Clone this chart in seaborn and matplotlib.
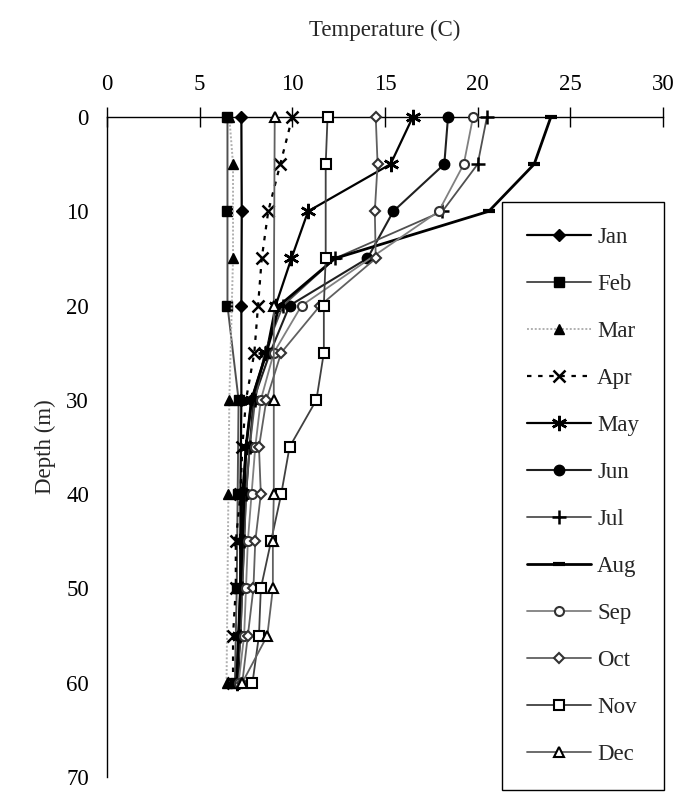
import matplotlib
matplotlib.use("Agg")
import matplotlib.pyplot as plt
import seaborn as sns
import pandas as pd

sns.set_style("white")
plt.rcParams['font.family'] = ['Liberation Serif', 'DejaVu Serif']

months = ["Jan", "Feb", "Mar", "Apr", "May", "Jun", "Jul", "Aug", "Sep", "Oct", "Nov", "Dec"]

depth_full = [0, 5, 10, 15, 20, 25, 30, 35, 40, 45, 50, 55, 60]
depth_jan = [0, 10, 20, 30, 40, 50, 60]
depth_feb = [0, 10, 20, 30, 40, 50, 60]
depth_mar = [0, 5, 15, 30, 40, 60]
depth_dec = [0, 20, 30, 40, 45, 50, 55, 60]
depth_sep = [0, 5, 10, 20, 25, 30, 35, 40, 45, 50, 55, 60]
depth_nov = [0, 5, 15, 20, 25, 30, 35, 40, 45, 50, 55, 60]

temp_jan = [7.25, 7.27, 7.25, 7.25, 7.2, 7.2, 7.1]
temp_feb = [6.5, 6.5, 6.5, 7.1, 7.05, 7.0, 6.9]
temp_mar = [6.6, 6.8, 6.8, 6.6, 6.55, 6.45]
temp_apr = [10.0, 9.35, 8.7, 8.35, 8.15, 7.95, 7.5, 7.3, 7.2, 6.95, 6.95, 6.8, 6.8]
temp_may = [16.5, 15.3, 10.85, 9.95, 9.1, 8.6, 7.8, 7.5, 7.3, 7.2, 7.2, 7.1, 7.0]
temp_jun = [18.4, 18.2, 15.45, 14.05, 9.85, 8.8, 7.9, 7.7, 7.5, 7.4, 7.3, 7.2, 7.0]
temp_jul = [20.5, 20.0, 18.1, 12.3, 9.5, 8.5, 8.0, 7.7, 7.5, 7.4, 7.3, 7.2, 7.0]
temp_aug = [23.95, 23.05, 20.6, 12.3, 9.3, 8.6, 7.8, 7.5, 7.4, 7.3, 7.2, 7.1, 7.0]
temp_sep = [19.75, 19.25, 17.9, 10.5, 9.0, 8.3, 8.0, 7.8, 7.6, 7.5, 7.4, 7.1]
temp_oct = [14.5, 14.6, 14.45, 14.5, 11.5, 9.4, 8.6, 8.2, 8.3, 8.0, 7.9, 7.6, 7.3]
temp_nov = [11.9, 11.8, 11.8, 11.7, 11.7, 11.3, 9.85, 9.4, 8.85, 8.3, 8.2, 7.85]
temp_dec = [9.05, 9.0, 9.0, 9.0, 8.95, 8.95, 8.65, 7.3]

x_ticks = [0, 5, 10, 15, 20, 25, 30]
y_ticks = [0, 10, 20, 30, 40, 50, 60, 70]

series = {
    "Jan": (temp_jan, depth_jan), "Feb": (temp_feb, depth_feb), "Mar": (temp_mar, depth_mar),
    "Apr": (temp_apr, depth_full), "May": (temp_may, depth_full), "Jun": (temp_jun, depth_full),
    "Jul": (temp_jul, depth_full), "Aug": (temp_aug, depth_full), "Sep": (temp_sep, depth_sep),
    "Oct": (temp_oct, depth_full), "Nov": (temp_nov, depth_nov), "Dec": (temp_dec, depth_dec),
}

styles = {
    "Jan": dict(color="black", ls="-", lw=1.6, marker="D", ms=6, mfc="black", mec="black"),
    "Feb": dict(color="#505050", ls="-", lw=1.4, marker="s", ms=7, mfc="black", mec="black"),
    "Mar": dict(color="#b0b0b0", ls=(0, (1, 1)), lw=1.4, marker="^", ms=7.5, mfc="black", mec="black"),
    "Apr": dict(color="black", ls=(0, (2, 3)), lw=1.6, marker="x", ms=8, mfc="black", mec="black", mew=1.8),
    "May": dict(color="black", ls="-", lw=1.6, marker=(6, 2, 0), ms=11, mfc="black", mec="black", mew=1.8),
    "Jun": dict(color="#202020", ls="-", lw=1.5, marker="o", ms=7.5, mfc="black", mec="black"),
    "Jul": dict(color="#505050", ls="-", lw=1.3, marker="+", ms=10, mfc="black", mec="black", mew=1.8),
    "Aug": dict(color="black", ls="-", lw=2.0, marker="_", ms=9, mfc="black", mec="black", mew=3),
    "Sep": dict(color="#808080", ls="-", lw=1.3, marker="o", ms=6.5, mfc="white", mec="#333333", mew=1.5),
    "Oct": dict(color="#606060", ls="-", lw=1.3, marker="D", ms=5.5, mfc="white", mec="#333333", mew=1.5),
    "Nov": dict(color="#404040", ls="-", lw=1.3, marker="s", ms=7.5, mfc="white", mec="black", mew=1.5),
    "Dec": dict(color="#606060", ls="-", lw=1.3, marker="^", ms=7.5, mfc="white", mec="black", mew=1.5),
}

fig = plt.figure(figsize=(6.79, 7.97), dpi=100)
ax = fig.add_axes([107 / 679, 1 - 777 / 797, (663 - 107) / 679, (777 - 117) / 797])

for m in months:
    t, d = series[m]
    df = pd.DataFrame({"Temperature": t, "Depth": d})
    st = styles[m]
    sns.lineplot(data=df, x="Temperature", y="Depth", sort=False, estimator=None, ax=ax,
                 color=st["color"], linestyle=st["ls"], linewidth=st["lw"], marker=st["marker"],
                 markersize=st["ms"], markerfacecolor=st["mfc"], markeredgecolor=st["mec"],
                 markeredgewidth=st.get("mew", 1.0), label=m, clip_on=False, zorder=3)

if ax.get_legend() is not None:
    ax.get_legend().remove()

ax.set_xlim(0, 30)
ax.set_ylim(70, 0)
ax.set_xticks(x_ticks)
ax.set_yticks(y_ticks)
ax.xaxis.tick_top()
ax.xaxis.set_label_position("top")
for s in ["right", "bottom"]:
    ax.spines[s].set_visible(False)
for s in ["left", "top"]:
    ax.spines[s].set_color("black")
    ax.spines[s].set_linewidth(1.0)
ax.tick_params(axis="x", direction="inout", length=14, width=1, labelsize=16.5, pad=8.5, colors="black")
ax.tick_params(axis="y", direction="inout", length=14, width=1, labelsize=16.5, pad=6, colors="black")
ax.set_xlabel("Temperature (C)", fontsize=16.5, labelpad=28)
ax.set_ylabel("Depth (m)", fontsize=16.5, labelpad=7)

handles = ax.get_lines()[:len(months)]
leg = fig.legend(handles=handles, labels=months, loc="upper left",
                 bbox_to_anchor=(502 / 679, 1 - 202 / 797), bbox_transform=fig.transFigure,
                 fontsize=16.5, frameon=True, fancybox=False, edgecolor="black", framealpha=1,
                 borderpad=1.1, labelspacing=1.13, handlelength=2.8, handletextpad=0.25,
                 borderaxespad=0)
leg.get_frame().set_linewidth(1.0)

fig.savefig("out.png", dpi=100)
